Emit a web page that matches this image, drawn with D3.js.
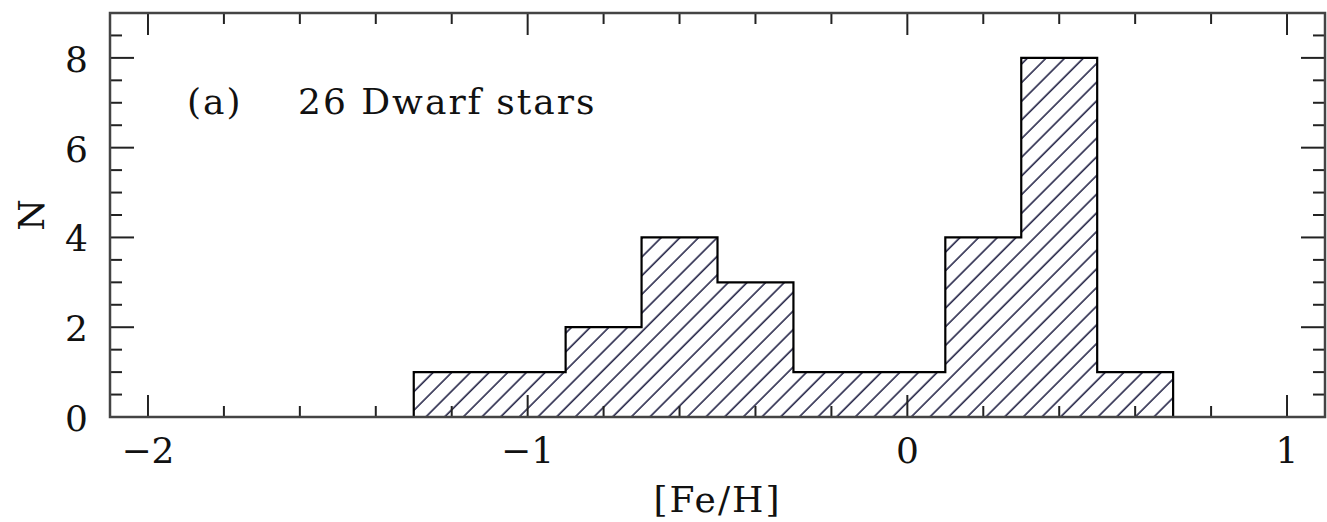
<!DOCTYPE html>
<html>
<head>
<meta charset="utf-8">
<script src="https://cdn.jsdelivr.net/npm/d3@7"></script>
<style>
  body { margin: 0; background: #fff; }
  svg text { font-family: "DejaVu Serif", "Liberation Serif", serif; fill: #111; }
</style>
</head>
<body>
<div id="chart"></div>
<script>
// histogram of [Fe/H] for 26 dwarf stars, bin width 0.2
const binStarts = [-1.3, -1.1, -0.9, -0.7, -0.5, -0.3, -0.1, 0.1, 0.3, 0.5];
const binWidth = 0.2;
const counts = [1, 1, 2, 4, 3, 1, 1, 4, 8, 1];
const xTicks = [-2, -1, 0, 1];
const yTicks = [0, 2, 4, 6, 8];
const panelLabel = '(a)';
const sampleLabel = '26 Dwarf stars';

const W = 1327, H = 522;
const margin = { left: 110, right: 2, top: 13, bottom: 105 };

const svg = d3.select('#chart').append('svg')
  .attr('width', W)
  .attr('height', H);

const x = d3.scaleLinear().domain([-2.1, 1.1]).range([margin.left, W - margin.right]);
const y = d3.scaleLinear().domain([0, 9]).range([H - margin.bottom, margin.top]);

const defs = svg.append('defs');
const pat = defs.append('pattern')
  .attr('id', 'hatch')
  .attr('patternUnits', 'userSpaceOnUse')
  .attr('width', 13.2)
  .attr('height', 13.2)
  .attr('patternTransform', 'rotate(45)');
pat.append('line')
  .attr('x1', 2).attr('y1', 0)
  .attr('x2', 2).attr('y2', 13.2)
  .attr('stroke', '#262648')
  .attr('stroke-width', 1.6);

// step outline of the histogram
const pts = [[binStarts[0], 0]];
binStarts.forEach((b, i) => {
  pts.push([b, counts[i]]);
  pts.push([b + binWidth, counts[i]]);
});
pts.push([binStarts[binStarts.length - 1] + binWidth, 0]);

const line = d3.line().x(d => x(d[0])).y(d => y(d[1]));

svg.append('path')
  .attr('d', line(pts) + 'Z')
  .attr('fill', 'url(#hatch)')
  .attr('stroke', 'none');

svg.append('path')
  .attr('d', line(pts))
  .attr('fill', 'none')
  .attr('stroke', '#000')
  .attr('stroke-width', 2.2);

// frame with ticks on all four sides
const majorX = 22, minorX = 11, majorY = 24, minorY = 12;
const xMinor = d3.range(-20, 11, 2).map(v => v / 10);
const yMinor = d3.range(0, 19).map(v => v / 2);
const tickCol = '#222';

const g = svg.append('g');

xMinor.forEach(v => {
  const len = xTicks.includes(v) ? majorX : minorX;
  g.append('line').attr('x1', x(v)).attr('x2', x(v))
    .attr('y1', y(0)).attr('y2', y(0) - len)
    .attr('stroke', tickCol).attr('stroke-width', 2);
  g.append('line').attr('x1', x(v)).attr('x2', x(v))
    .attr('y1', y(9)).attr('y2', y(9) + len)
    .attr('stroke', tickCol).attr('stroke-width', 2);
});

yMinor.forEach(v => {
  const len = yTicks.includes(v) ? majorY : minorY;
  g.append('line').attr('x1', x(-2.1)).attr('x2', x(-2.1) + len)
    .attr('y1', y(v)).attr('y2', y(v))
    .attr('stroke', tickCol).attr('stroke-width', 2);
  g.append('line').attr('x1', x(1.1)).attr('x2', x(1.1) - len)
    .attr('y1', y(v)).attr('y2', y(v))
    .attr('stroke', tickCol).attr('stroke-width', 2);
});

svg.append('rect')
  .attr('x', x(-2.1)).attr('y', y(9))
  .attr('width', x(1.1) - x(-2.1))
  .attr('height', y(0) - y(9))
  .attr('fill', 'none')
  .attr('stroke', '#444')
  .attr('stroke-width', 2.5);

// tick labels
svg.append('g').selectAll('text')
  .data(xTicks)
  .join('text')
  .attr('x', d => x(d))
  .attr('y', y(0) + 46)
  .attr('text-anchor', 'middle')
  .attr('font-size', 36)
  .text(d => d < 0 ? '\u2212' + Math.abs(d) : d);

svg.append('g').selectAll('text')
  .data(yTicks)
  .join('text')
  .attr('x', x(-2.1) - 22)
  .attr('y', d => y(d) + 14)
  .attr('text-anchor', 'end')
  .attr('font-size', 36)
  .text(d => d);

// axis titles
svg.append('text')
  .attr('x', (x(-2.1) + x(1.1)) / 2)
  .attr('y', 512)
  .attr('text-anchor', 'middle')
  .attr('font-size', 36)
  .attr('letter-spacing', 2)
  .text('[Fe/H]');

svg.append('text')
  .attr('transform', `translate(44, ${y(4.5)}) rotate(-90)`)
  .attr('text-anchor', 'middle')
  .attr('font-size', 36)
  .text('N');

// annotation
svg.append('text')
  .attr('x', 187).attr('y', 114)
  .attr('font-size', 36)
  .attr('letter-spacing', 2)
  .text(panelLabel);
svg.append('text')
  .attr('x', 298).attr('y', 114)
  .attr('font-size', 36)
  .attr('letter-spacing', 2)
  .text(sampleLabel);
</script>
</body>
</html>
